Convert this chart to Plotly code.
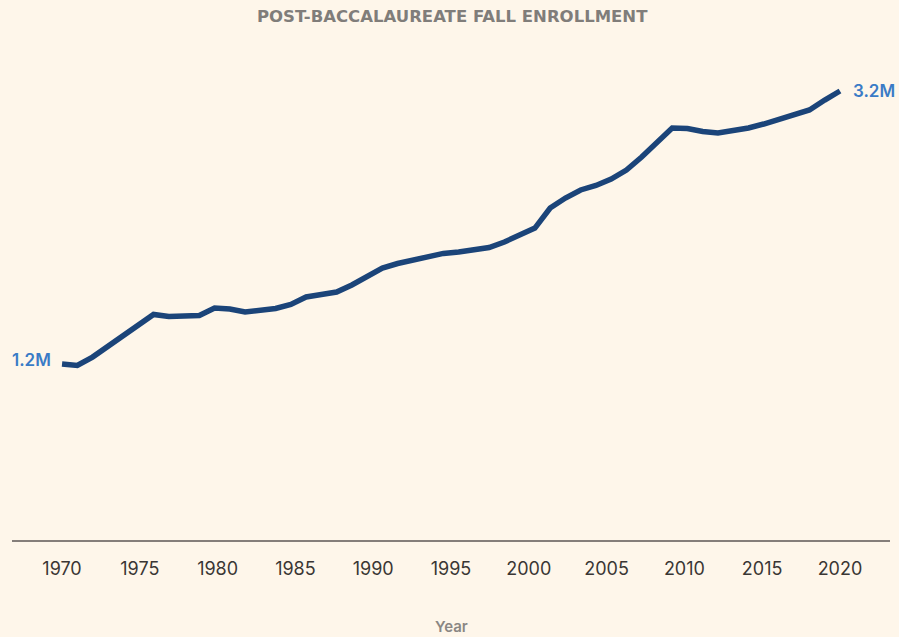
import plotly.graph_objects as go

# fall enrollment, post-baccalaureate, in millions
years = list(range(1970, 2022))
enrollment = [
    1.200, 1.189, 1.251, 1.328, 1.405, 1.486, 1.563, 1.548, 1.552, 1.555,
    1.610, 1.603, 1.581, 1.599, 1.607, 1.636, 1.691, 1.709, 1.727, 1.779,
    1.837, 1.903, 1.936, 1.962, 1.991, 2.010, 2.021, 2.032, 2.053, 2.094,
    2.141, 2.196, 2.343, 2.416, 2.475, 2.508, 2.555, 2.621, 2.716, 2.826,
    2.929, 2.925, 2.903, 2.892, 2.907, 2.929, 2.958, 2.991, 3.021, 3.061,
    3.134, 3.200,
]
tick_years = [1970, 1975, 1980, 1985, 1990, 1995, 2000, 2005, 2010, 2015, 2020]
start_label = "1.2M"
end_label = "3.2M"

BG = "#FEF6EA"
LINE = "#1B4479"
BLUE = "#3A7BC6"
GREY = "#807D7A"

# the source spreads the 1970-2020 labels over the full 1970-2021 line
span = (years[-1] - years[0]) / (tick_years[-1] - tick_years[0])
tickvals = [years[0] + (t - years[0]) * span for t in tick_years]

fig = go.Figure()
fig.add_trace(
    go.Scatter(
        x=years,
        y=enrollment,
        mode="lines",
        line=dict(color=LINE, width=5.5, shape="linear"),
        hoverinfo="skip",
        showlegend=False,
    )
)

fig.add_annotation(
    x=years[0], y=enrollment[0], text=start_label, showarrow=False,
    xanchor="right", yanchor="middle", xshift=-9, yshift=4,
    font=dict(family="Inter", size=17, color=BLUE, weight=600),
)
fig.add_annotation(
    x=years[-1], y=enrollment[-1], text=end_label, showarrow=False,
    xanchor="left", yanchor="middle", xshift=11, yshift=0,
    font=dict(family="Inter", size=17, color=BLUE, weight=600),
)
fig.add_annotation(
    xref="paper", yref="paper", x=0.5, y=-0.172, text="Year", showarrow=False,
    xanchor="center", yanchor="middle",
    font=dict(family="Inter", size=15, color="#8A8784", weight=600),
)

fig.update_layout(
    width=899,
    height=637,
    margin=dict(l=12, r=9, t=40, b=97),
    paper_bgcolor=BG,
    plot_bgcolor=BG,
    title=dict(
        text="POST-BACCALAUREATE FALL ENROLLMENT",
        x=0.503, xanchor="center", y=0.975, yanchor="middle",
        font=dict(family="DejaVu Sans", size=16.5, color=GREY, weight="bold"),
    ),
)
fig.update_xaxes(
    range=[1966.72, 2024.28],
    tickvals=tickvals,
    ticktext=[str(t) for t in tick_years],
    showgrid=False,
    zeroline=False,
    showline=True,
    linecolor="#857E7A",
    linewidth=1.5,
    ticks="",
    ticklabelstandoff=12,
    tickfont=dict(family="Inter", size=18, color="#3A3634"),
)
fig.update_yaxes(
    range=[-0.0894, 3.5736],
    visible=False,
)

fig.write_html(
    "out.html",
    config={"displayModeBar": False},
    post_script="document.body.style.margin='0';"
    "document.body.style.background='" + BG + "';"
    "document.body.style.overflow='hidden';",
)
